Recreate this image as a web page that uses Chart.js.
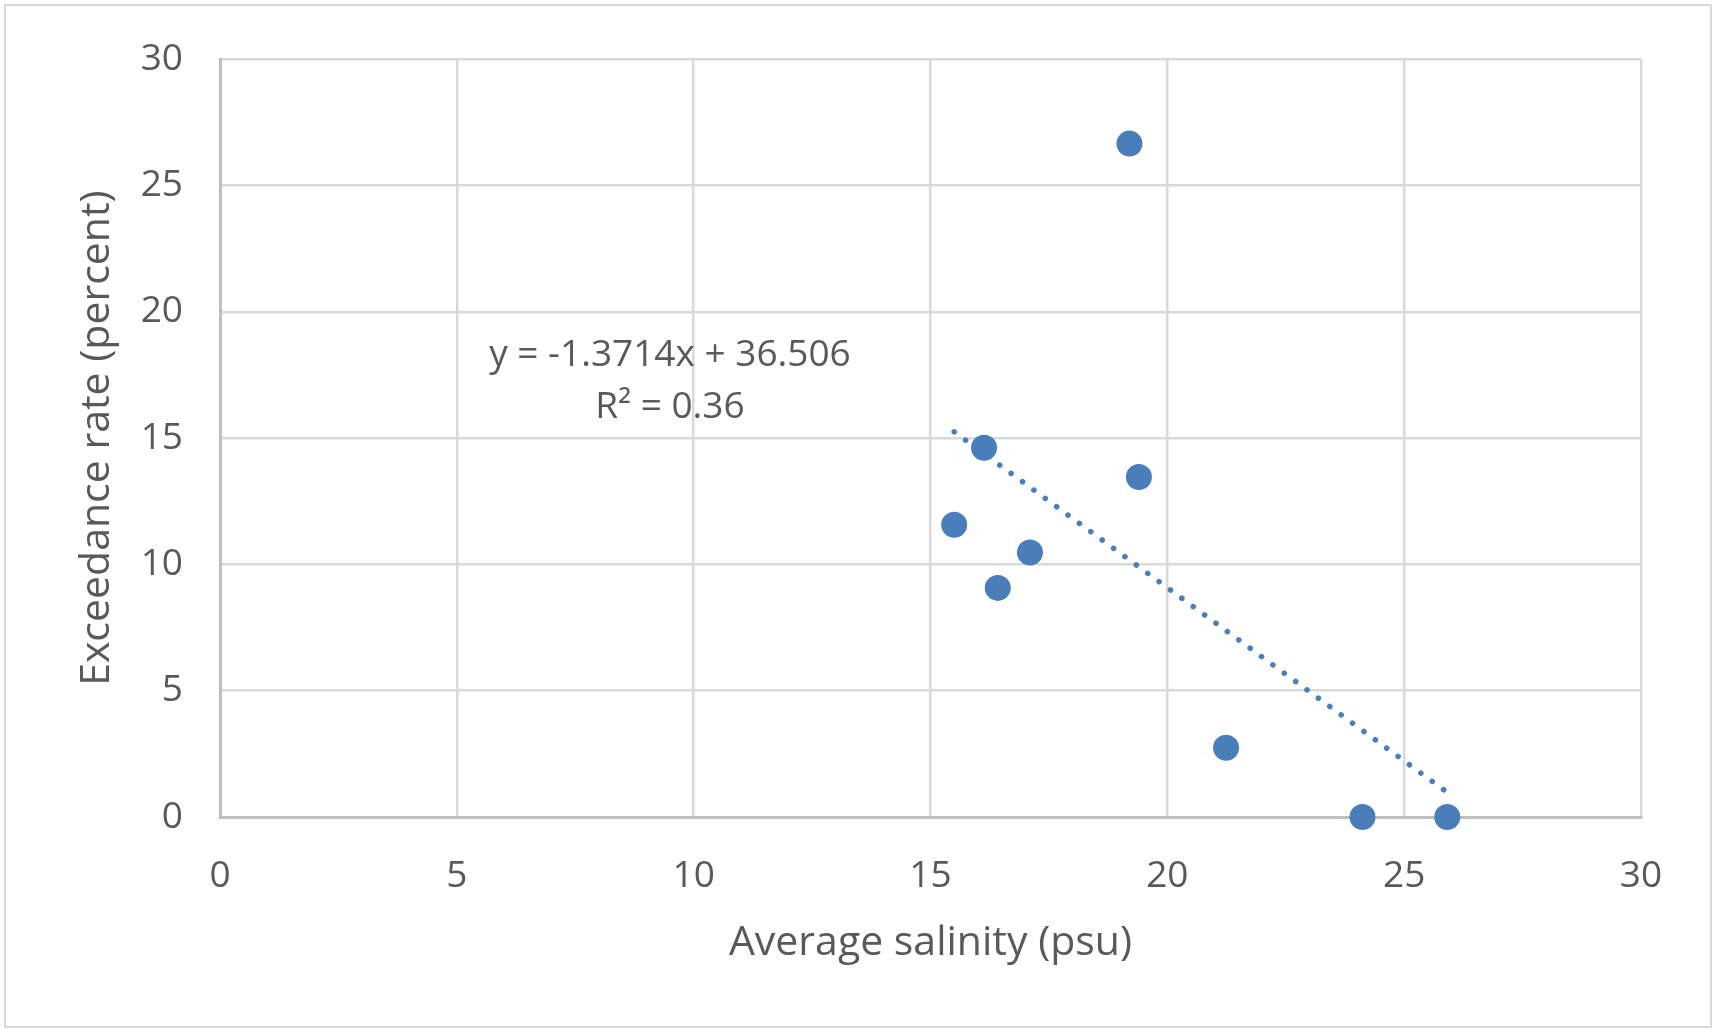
<!DOCTYPE html>
<html>
<head>
<meta charset="utf-8">
<title>Exceedance rate vs. average salinity</title>
<script src="https://cdn.jsdelivr.net/npm/chart.js@4.4.0/dist/chart.umd.min.js"></script>
<style>
  html, body { margin: 0; padding: 0; background: #fff; }
  .wrap { position: relative; width: 1713px; height: 1030px; overflow: hidden; }
  .frame { position: absolute; left: 4px; top: 4px; width: 1704px; height: 1020px; border: 2px solid #d9d9d9; pointer-events: none; }
  canvas { position: absolute; left: 0; top: 0; }
</style>
</head>
<body>
<div class="wrap">
  <canvas id="chart" width="1713" height="1030"></canvas>
  <div class="frame"></div>
</div>
<script>
/* ===== 塩分と超過率の散布図（線形近似つき） ===== */
var salinity   = [19.2, 16.13, 19.4, 15.5, 17.1, 16.42, 21.24, 24.12, 25.91];
var exceedance = [26.66, 14.62, 13.46, 11.57, 10.47, 9.07, 2.74, 0, 0];
var xTicks = [0, 5, 10, 15, 20, 25, 30];
var yTicks = [0, 5, 10, 15, 20, 25, 30];
var trendSlope = -1.3714, trendIntercept = 36.506, trendR2 = 0.36;
var eqLines = ["y = " + trendSlope + "x + " + trendIntercept, "R\u00b2 = " + trendR2];

(function () {
  "use strict";
  var TEXT = "#595959", GRID = "#d9d9d9", AXIS = "#bfbfbf", BLUE = "#4a7ebb";
  var FONT = "'Open Sans', 'Noto Sans', sans-serif";

  var points = salinity.map(function (x, i) { return { x: x, y: exceedance[i] }; });
  // 近似線はデータの x の範囲だけ引く
  var xMin = Math.min.apply(null, salinity), xMax = Math.max.apply(null, salinity);
  var trend = [xMin, xMax].map(function (x) { return { x: x, y: trendSlope * x + trendIntercept }; });

  // 近似式のラベル（データ座標で位置を決める）
  var eqLabel = {
    id: "eqLabel",
    afterDatasetsDraw: function (c) {
      var ctx = c.ctx, sx = c.scales.x, sy = c.scales.y;
      var cx = sx.getPixelForValue(9.5);
      ctx.save();
      ctx.fillStyle = TEXT;
      ctx.font = "37px " + FONT;
      ctx.textAlign = "center";
      ctx.textBaseline = "alphabetic";
      ctx.fillText(eqLines[0], cx, sy.getPixelForValue(17.84));
      ctx.fillText(eqLines[1], cx, sy.getPixelForValue(15.79));
      ctx.restore();
    }
  };

  function tickList(vals) { return function (s) { s.ticks = vals.map(function (v) { return { value: v }; }); }; }

  new Chart(document.getElementById("chart"), {
    type: "scatter",
    data: {
      datasets: [
        { label: "Exceedance rate", data: points, backgroundColor: BLUE, borderWidth: 0, pointRadius: 13, pointHoverRadius: 13, clip: false, order: 0 },
        { label: "Linear (Exceedance rate)", data: trend, showLine: true, borderColor: BLUE, borderWidth: 5.5,
          borderDash: [0.1, 14], borderCapStyle: "round", pointRadius: 0, order: 1 }
      ]
    },
    options: {
      responsive: false,
      animation: false,
      events: [],
      layout: { padding: { top: 56, right: 72, left: 0, bottom: 0 } },
      plugins: { legend: { display: false }, tooltip: { enabled: false } },
      scales: {
        x: {
          type: "linear", min: 0, max: 30,
          afterBuildTicks: tickList(xTicks),
          afterFit: function (s) { s.height = 213; },
          grid: { color: GRID, lineWidth: 2.5, drawTicks: false },
          border: { color: AXIS, width: 3 },
          ticks: { color: TEXT, padding: 37, font: { family: FONT, size: 37 } },
          title: { display: true, text: "Average salinity (psu)", color: TEXT, padding: { top: 0, bottom: 62 }, font: { family: FONT, size: 41 } }
        },
        y: {
          type: "linear", min: 0, max: 30,
          afterBuildTicks: tickList(yTicks),
          afterFit: function (s) { s.width = 220; },
          grid: { color: GRID, lineWidth: 2.5, drawTicks: false },
          border: { color: AXIS, width: 3 },
          ticks: { color: TEXT, padding: 37, font: { family: FONT, size: 37 } },
          title: { display: true, text: "Exceedance rate (percent)", color: TEXT, padding: { top: 73, bottom: 0 }, font: { family: FONT, size: 41 } }
        }
      }
    },
    plugins: [eqLabel]
  });
})();
</script>
</body>
</html>
